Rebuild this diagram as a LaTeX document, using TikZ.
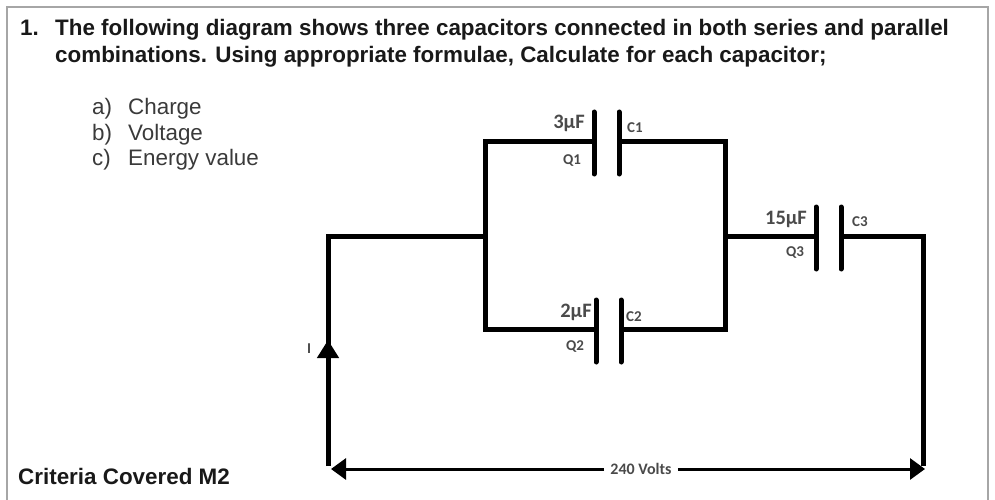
\documentclass[tikz,border=0pt]{standalone}
\usepackage{fontspec}
\setmainfont{Liberation Sans}
\newfontfamily\calibri{Carlito}
\usetikzlibrary{arrows.meta}
\definecolor{framegrey}{HTML}{A6A6A6}
\definecolor{textgrey}{HTML}{3A3A3A}
\definecolor{labelgrey}{HTML}{4A4A4A}
\tikzset{
	wire/.style={line width=5pt, black},
	plate/.style={line width=5pt, black, line cap=round},
	head/.style={font=\fontsize{22.4}{26}\selectfont\bfseries, text=black!90, anchor=base west, inner sep=0pt},
	item/.style={font=\fontsize{22.4}{26}\selectfont, text=textgrey, anchor=base west, inner sep=0pt},
	value/.style={font=\calibri\fontsize{20.5}{22}\selectfont\bfseries, text=labelgrey, inner sep=0pt},
	tag/.style={font=\calibri\fontsize{15}{16}\selectfont\bfseries, text=labelgrey, inner sep=0pt},
}
\begin{document}
\begin{tikzpicture}[x=1pt, y=-1pt]
	\useasboundingbox (0,0) rectangle (995,500);

	% frame
	\coordinate (framebl) at (7,500);
	\coordinate (frametl) at (7,7);
	\coordinate (frametr) at (988,7);
	\coordinate (framebr) at (988,500);
	\draw[framegrey, line width=2.5pt] (framebl) -- (frametl) -- (frametr) -- (framebr);

	% question text
	\node[head] (number) at (20,36) {1.};
	\node[head] (lineone) at (55,36) {The following diagram shows three capacitors connected in both series and parallel};
	\node[head] (linetwo) at (55,63) {combinations. Using appropriate formulae, Calculate for each capacitor;};
	\foreach \name/\letter/\word/\y in {charge/a/Charge/114, voltage/b/Voltage/140, energy/c/Energy value/165}{
		\node[item] (\name mark) at (92,\y) {\letter)};
		\node[item] (\name) at (128,\y) {\word};
	}
	\node[head] (criteria) at (18,484) {Criteria Covered M2};

	% capacitors: left plate, right plate
	\foreach \name/\xl/\xr/\y in {cone/594/619/141, ctwo/596/621/329, cthree/816/841/236}{
		\coordinate (\name l) at (\xl,\y);
		\coordinate (\name r) at (\xr,\y);
		\draw[plate] (\xl,\y-29) -- (\xl,\y+33);
		\draw[plate] (\xr,\y-29) -- (\xr,\y+33);
	}

	% corners of the circuit
	\coordinate (jleft) at (485,236);
	\coordinate (jright) at (725,236);
	\coordinate (corner) at (328,236);
	\coordinate (bottoml) at (328,466);
	\coordinate (bottomr) at (923,466);
	\coordinate (arrowi) at (328,340);
	\coordinate (arrowbase) at (328,352);
	\coordinate (voltl) at (331,469);
	\coordinate (voltr) at (925,469);

	% wires
	\draw[wire, line join=miter] (conel) -| (jleft) |- (ctwol);
	\draw[wire, line join=miter] (coner) -| (jright) |- (ctwor);
	\draw[wire, line join=miter] (jleft) -- (corner) -- (arrowbase);
	\draw[wire] (jright) -- (cthreel);
	\draw[wire, line join=miter] (cthreer) -| (bottomr);
	\draw[wire, -{Triangle[length=18pt, width=21pt]}] (bottoml) -- (arrowi);

	% voltage arrow
	\node[font=\calibri\fontsize{16}{18}\selectfont\bfseries, text=labelgrey, fill=white, inner xsep=6pt, inner ysep=2pt] (volts) at (641,469) {240 Volts};
	\draw[line width=3pt, -{Triangle[length=15pt, width=21pt]}] (volts) -- (voltl);
	\draw[line width=3pt, -{Triangle[length=15pt, width=21pt]}] (volts) -- (voltr);

	% labels
	\node[value] (vone) at (569,123) {3µF};
	\node[value] (vtwo) at (576,312) {2µF};
	\node[value] (vthree) at (786,219) {15µF};
	\node[tag] (qone) at (572,161) {Q1};
	\node[tag] (qtwo) at (575,347) {Q2};
	\node[tag] (qthree) at (795,253) {Q3};
	\node[tag] (cone) at (635,128) {C1};
	\node[tag] (ctwo) at (634,317) {C2};
	\node[tag] (cthree) at (860,222) {C3};
	\node[tag] (current) at (309,349) {I};
\end{tikzpicture}
\end{document}
